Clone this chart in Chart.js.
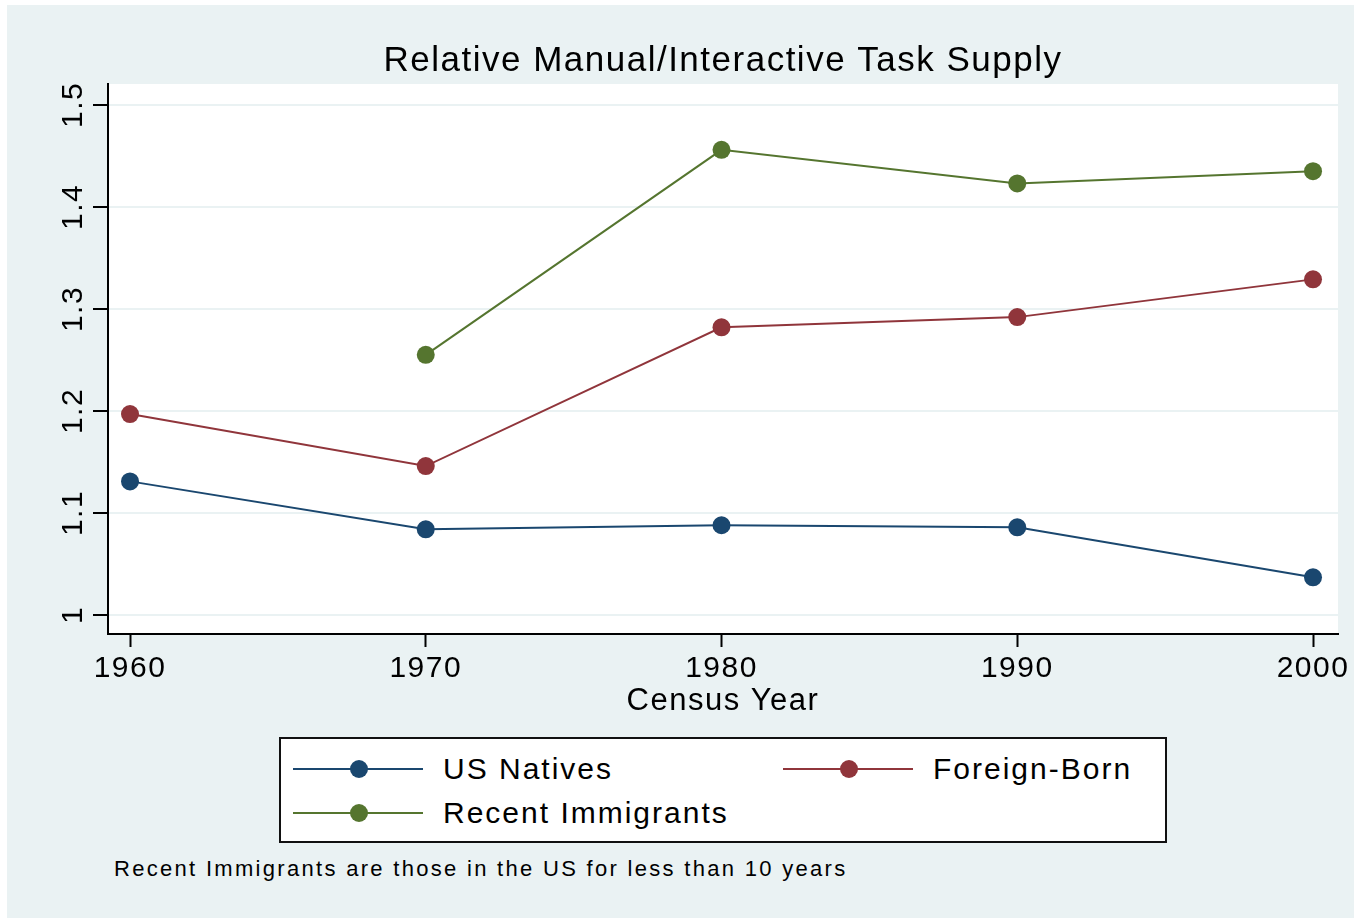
<!DOCTYPE html>
<html>
<head>
<meta charset="utf-8">
<script src="https://cdn.jsdelivr.net/npm/chart.js@4.4.1/dist/chart.umd.min.js"></script>
<style>
  html, body { margin: 0; padding: 0; background: #ffffff; width: 1354px; height: 918px; overflow: hidden; }
  #bg { position: absolute; left: 7px; top: 5px; width: 1347px; height: 913px; background: #eaf2f3; }
  #wrap { position: absolute; left: 0; top: 0; width: 1354px; height: 722px; }
  #legend { position: absolute; left: 279px; top: 737px; width: 884px; height: 102px; background: #ffffff;
            border: 2px solid #111; font-family: "Liberation Sans", Arial, sans-serif; }
  .item { position: absolute; height: 40px; display: flex; align-items: center; }
  .mk { position: relative; width: 130px; height: 20px; margin-right: 20px; }
  .mk .ln { position: absolute; left: 0; right: 0; top: 9px; height: 2px; }
  .mk .dt { position: absolute; left: 57px; top: 1px; width: 18px; height: 18px; border-radius: 50%; }
  .lbl { font-size: 30px; letter-spacing: 2px; color: #000; white-space: nowrap; }
  #note { position: absolute; left: 114px; top: 856px; font-family: "Liberation Sans", Arial, sans-serif;
          font-size: 22px; letter-spacing: 2.3px; color: #000; white-space: nowrap; }
</style>
</head>
<body>
<div id="bg"></div>
<div id="wrap"><canvas id="c"></canvas></div>
<div id="legend"></div>
<div id="note">Recent Immigrants are those in the US for less than 10 years</div>
<script>
const years = [1960, 1970, 1980, 1990, 2000];
const usNatives = [1.131, 1.084, 1.088, 1.086, 1.037];
const foreignBorn = [1.197, 1.146, 1.282, 1.292, 1.329];
const recentImmigrants = [null, 1.255, 1.456, 1.423, 1.435];
const yTicks = [1.0, 1.1, 1.2, 1.3, 1.4, 1.5];
const xTicks = [1960, 1970, 1980, 1990, 2000];
const seriesNames = ["US Natives", "Foreign-Born", "Recent Immigrants"];
const seriesColors = ["#1a476f", "#90353b", "#55752f"];

Chart.defaults.font.family = '"Liberation Sans", Arial, sans-serif';
Chart.defaults.color = '#000';

function pts(vals) { return years.map((yr, i) => ({ x: yr, y: vals[i] })); }

const spacing = {
  id: 'spacing',
  beforeUpdate(chart) { chart.ctx.letterSpacing = '1.5px'; },
  beforeLayout(chart) { chart.ctx.letterSpacing = '1.5px'; },
  beforeDraw(chart) { chart.ctx.letterSpacing = '1.5px'; }
};

const plotBg = {
  id: 'plotBg',
  beforeDraw(chart) {
    const { ctx, chartArea: a } = chart;
    ctx.save();
    ctx.fillStyle = '#ffffff';
    ctx.fillRect(a.left, a.top, a.right - a.left, a.bottom - a.top);
    ctx.restore();
  }
};

const htmlLegend = {
  id: 'htmlLegend',
  afterUpdate(chart) {
    const box = document.getElementById('legend');
    box.innerHTML = '';
    const pos = [[12, 10], [502, 10], [12, 54]];
    chart.data.datasets.forEach((ds, i) => {
      const it = document.createElement('div');
      it.className = 'item';
      it.style.left = pos[i][0] + 'px';
      it.style.top = pos[i][1] + 'px';
      const mk = document.createElement('div'); mk.className = 'mk';
      const ln = document.createElement('div'); ln.className = 'ln'; ln.style.background = ds.borderColor;
      const dt = document.createElement('div'); dt.className = 'dt'; dt.style.background = ds.backgroundColor;
      mk.appendChild(ln); mk.appendChild(dt);
      const lb = document.createElement('span'); lb.className = 'lbl'; lb.textContent = ds.label;
      it.appendChild(mk); it.appendChild(lb);
      box.appendChild(it);
    });
  }
};

const seriesVals = [usNatives, foreignBorn, recentImmigrants];
new Chart(document.getElementById('c'), {
  type: 'line',
  data: {
    datasets: seriesVals.map((v, i) => ({
      label: seriesNames[i],
      data: pts(v),
      borderColor: seriesColors[i],
      backgroundColor: seriesColors[i],
      borderWidth: 2,
      pointRadius: 9,
      pointHoverRadius: 9,
      pointBorderWidth: 0,
      tension: 0,
      spanGaps: false
    }))
  },
  options: {
    responsive: true,
    maintainAspectRatio: false,
    animation: false,
    events: [],
    layout: { padding: { left: 0, right: 16, top: 0, bottom: 0 } },
    plugins: {
      legend: { display: false },
      tooltip: { enabled: false },
      title: {
        display: true,
        fullSize: false,
        text: 'Relative Manual/Interactive Task Supply',
        font: { size: 35, weight: 'normal' },
        color: '#000',
        padding: { top: 40, bottom: 2 }
      }
    },
    scales: {
      x: {
        type: 'linear',
        min: 1959.256,
        max: 2000.845,
        afterBuildTicks(s) { s.ticks = xTicks.map(v => ({ value: v })); },
        afterFit(s) { s.height = 88; },
        ticks: { font: { size: 30 }, color: '#000', padding: 4, maxRotation: 0, autoSkip: false,
                 callback: v => String(v) },
        grid: { drawOnChartArea: false, drawTicks: true, tickLength: 13, tickColor: '#000', tickWidth: 2 },
        border: { display: true, color: '#000', width: 2 },
        title: { display: true, text: 'Census Year', font: { size: 31 }, color: '#000', padding: { top: 0, bottom: 2 } }
      },
      y: {
        type: 'linear',
        min: 0.9814,
        max: 1.5205,
        afterBuildTicks(s) { s.ticks = yTicks.map(v => ({ value: v })); },
        afterFit(s) { s.width = 108; },
        ticks: { font: { size: 30 }, color: '#000', padding: -4, minRotation: 90, maxRotation: 90,
                 crossAlign: 'center', autoSkip: false,
                 callback: v => String(+v.toFixed(1)) },
        grid: { drawOnChartArea: true, color: '#eaf2f3', lineWidth: 2, drawTicks: true, tickLength: 15,
                tickColor: '#000', tickWidth: 2 },
        border: { display: true, color: '#000', width: 2 }
      }
    }
  },
  plugins: [spacing, plotBg, htmlLegend]
});
</script>
</body>
</html>
